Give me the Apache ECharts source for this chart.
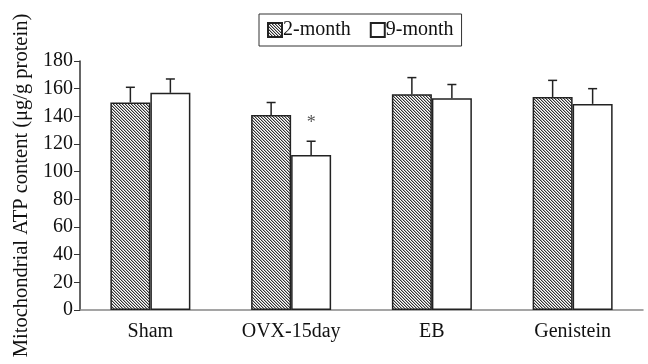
<!DOCTYPE html>
<html><head><meta charset="utf-8">
<script src="https://cdn.jsdelivr.net/npm/echarts@6/dist/echarts.min.js"></script>
<style>html,body{margin:0;padding:0;background:#fff}#c{width:648px;height:364px}</style>
</head><body><div id="c"></div>
<script>
const categories = ['Sham', 'OVX-15day', 'EB', 'Genistein'];
const seriesNames = ['2-month', '9-month'];
const values2m = [150, 141, 156, 154];
const errors2m = [11, 9, 12, 12];
const values9m = [157, 112, 153, 149];
const errors9m = [10, 10, 10, 11];
const significant9m = [false, true, false, false];
const yTicks = { min: 0, max: 180, interval: 20 };
const yTitle = 'Mitochondrial ATP content (\u03bcg/g protein)';

const FONT = '"Liberation Serif", "Times New Roman", serif';

function makeHatch() {
  const c = document.createElement('canvas');
  c.width = 6; c.height = 6;
  const ctx = c.getContext('2d');
  const img = ctx.createImageData(6, 6);
  for (let y = 0; y < 6; y++) for (let x = 0; x < 6; x++) {
    const m = ((x - y) % 3 + 3) % 3;
    const v = m === 0 ? 50 : (m === 1 ? 175 : 255);
    const i = (y * 6 + x) * 4;
    img.data[i] = v; img.data[i + 1] = v; img.data[i + 2] = v; img.data[i + 3] = 255;
  }
  ctx.putImageData(img, 0, 0);
  return c;
}
const hatch = { image: makeHatch(), repeat: 'repeat' };

const BAR_W = 40;

function errorSeries(vals, errs, offsetSign, sig) {
  return {
    type: 'custom',
    z: 5,
    data: vals.map((v, i) => [i, v, errs[i], sig ? (sig[i] ? 1 : 0) : 0]),
    renderItem: function (params, api) {
      const i = api.value(0), v = api.value(1), e = api.value(2), s = api.value(3);
      const base = api.coord([i, v]);
      const top = api.coord([i, v + e]);
      const x = base[0] + offsetSign * BAR_W / 2;
      const children = [
        { type: 'line', shape: { x1: x, y1: base[1], x2: x, y2: top[1] }, style: { stroke: '#222', lineWidth: 1.5 } },
        { type: 'line', shape: { x1: x - 4.5, y1: top[1], x2: x + 4.5, y2: top[1] }, style: { stroke: '#222', lineWidth: 1.5 } }
      ];
      if (s) {
        children.push({ type: 'text', style: { text: '*', x: x, y: top[1] - 18, textAlign: 'center', textVerticalAlign: 'middle', font: '18px ' + FONT, fill: '#555' } });
      }
      return { type: 'group', children: children };
    }
  };
}

const chart = echarts.init(document.getElementById('c'), null, { renderer: 'canvas' });
chart.setOption({
  animation: false,
  backgroundColor: '#fff',
  grid: { left: 80, right: 5, top: 61, bottom: 54 },
  legend: {
    top: 14, left: 259,
    data: seriesNames,
    itemWidth: 14, itemHeight: 14, itemGap: 19,
    icon: 'rect',
    borderColor: '#333', borderWidth: 1,
    padding: [6, 8, 6, 8],
    textStyle: { fontFamily: FONT, fontSize: 20, color: '#111', padding: [0, 0, 0, -4] }
  },
  xAxis: {
    type: 'category',
    data: categories,
    axisLine: { lineStyle: { color: '#888', width: 1.5 } },
    axisTick: { inside: true, length: 6, lineStyle: { color: '#333' } },
    axisLabel: { fontFamily: FONT, fontSize: 20, color: '#111', margin: 12 }
  },
  yAxis: {
    type: 'value',
    min: yTicks.min, max: yTicks.max, interval: yTicks.interval,
    name: yTitle,
    nameLocation: 'middle',
    nameGap: 44,
    nameTextStyle: { fontFamily: FONT, fontSize: 20.5, color: '#111' },
    axisLine: { show: true, lineStyle: { color: '#333', width: 1.5 } },
    axisTick: { show: true, length: 6, lineStyle: { color: '#333' } },
    axisLabel: { fontFamily: FONT, fontSize: 20, color: '#111', margin: 7 },
    splitLine: { show: false }
  },
  series: [
    {
      name: seriesNames[0], type: 'bar', data: values2m, barWidth: BAR_W, barGap: '0%',
      itemStyle: { color: hatch, borderColor: '#222', borderWidth: 1.5 }
    },
    {
      name: seriesNames[1], type: 'bar', data: values9m, barWidth: BAR_W, barGap: '0%',
      itemStyle: { color: '#fff', borderColor: '#222', borderWidth: 1.5 }
    },
    errorSeries(values2m, errors2m, -1, null),
    errorSeries(values9m, errors9m, 1, significant9m)
  ]
});
</script>
</body></html>
